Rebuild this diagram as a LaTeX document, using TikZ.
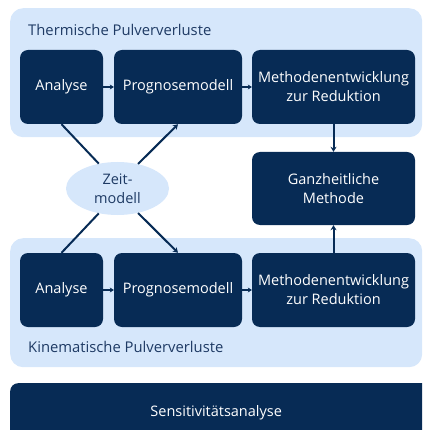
\documentclass[tikz,border=0pt]{standalone}
\usepackage{fontspec}
\setmainfont{Open Sans}
\usetikzlibrary{shapes.geometric,arrows.meta}
\definecolor{navy}{HTML}{072B55}
\definecolor{lightblue}{HTML}{D6E7FB}
\definecolor{labeltext}{HTML}{1E3A64}
\tikzset{
  darkbox/.style={draw=none, fill=navy, rounded corners=8pt, text=white, align=center,
    font=\fontsize{14.5}{19}\selectfont, inner sep=0pt},
  panel/.style={draw=none, fill=lightblue, rounded corners=13pt},
  paneltitle/.style={text=labeltext, font=\fontsize{14.8}{18}\selectfont, anchor=west, inner sep=0pt},
  conn/.style={draw=navy, line width=2pt},
  arr/.style={conn, -{Stealth[length=5pt,width=6pt]}},
  sarr/.style={draw=navy, line width=1.6pt, -{Stealth[length=4pt,width=5pt]}},
}
\begin{document}
\begin{tikzpicture}[x=1pt,y=-1pt]
\useasboundingbox (0,0) rectangle (422,430);
\clip (0,0) rectangle (422,430);
% panels
\node[panel, minimum width=412, minimum height=129, anchor=north west] (ptop) at (10,8) {};
\node[panel, minimum width=412, minimum height=129, anchor=north west] (pbot) at (10,238) {};
\node[paneltitle] (ttop) at (28,30) {Thermische Pulververluste};
\node[paneltitle] (tbot) at (28,347) {Kinematische Pulververluste};
% top row
\node[darkbox, minimum width=83, minimum height=74] (anaT) at (61.5,87) {Analyse};
\node[darkbox, minimum width=128, minimum height=74] (progT) at (178,87) {Prognosemodell};
\node[darkbox, minimum width=163, minimum height=74] (methT) at (333.5,87) {Methodenentwicklung\\zur Reduktion};
% bottom row
\node[darkbox, minimum width=83, minimum height=74] (anaB) at (61.5,290) {Analyse};
\node[darkbox, minimum width=128, minimum height=74] (progB) at (178,290) {Prognosemodell};
\node[darkbox, minimum width=163, minimum height=74] (methB) at (333.5,290) {Methodenentwicklung\\zur Reduktion};
% middle
\node[darkbox, minimum width=163, minimum height=73] (ganz) at (333.5,188.5) {Ganzheitliche\\Methode};
\node[ellipse, fill=lightblue, draw=none, minimum width=103, minimum height=53, inner sep=0pt,
  text=labeltext, align=center, font=\fontsize{14.5}{19}\selectfont] (zeit) at (117.5,188.5) {Zeit-\\modell};
% sensitivity bar
\node[darkbox, minimum width=432, minimum height=60, anchor=north west,
  label={[xshift=-10pt, text=white, font=\fontsize{14.5}{18}\selectfont]center:Sensitivitätsanalyse}] (sens) at (10,383) {};
% connectors
\draw[sarr] (anaT.east) -- (progT.west);
\draw[sarr] (progT.east) -- (methT.west);
\draw[sarr] (anaB.east) -- (progB.west);
\draw[sarr] (progB.east) -- (methB.west);
\draw[conn] (anaT.south) -- (zeit.127);
\draw[arr] (zeit.50) -- (progT.south);
\draw[conn] (anaB.north) -- (zeit.-127);
\draw[arr] (zeit.-50) -- (progB.north);
\draw[arr] (methT.south) -- (ganz.north);
\draw[arr] (methB.north) -- (ganz.south);
\end{tikzpicture}
\end{document}
